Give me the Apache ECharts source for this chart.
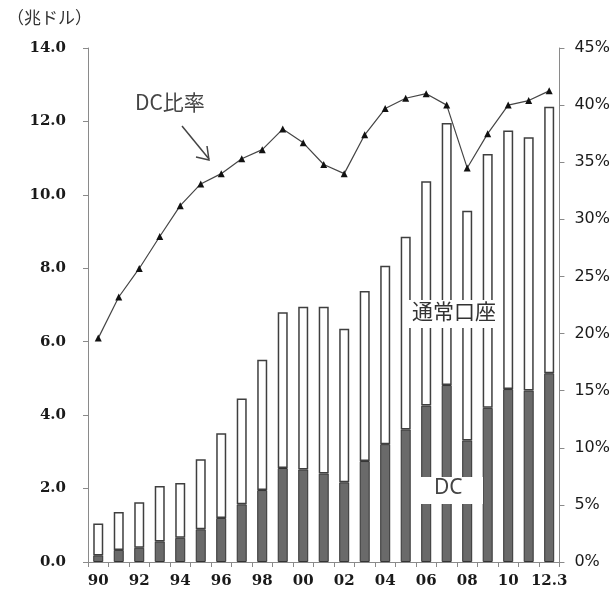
<!DOCTYPE html>
<html><head><meta charset="utf-8">
<script src="https://cdn.jsdelivr.net/npm/echarts@6/dist/echarts.min.js"></script>
<style>html,body{margin:0;padding:0;background:#fff}#c{width:613px;height:598px}</style>
</head><body><div id="c"></div>
<script>
const categories = ['90','91','92','93','94','95','96','97','98','99','00','01','02','03','04','05','06','07','08','09','10','11','12.3'];
const dcValues = [0.18,0.33,0.39,0.56,0.66,0.89,1.20,1.57,1.96,2.56,2.52,2.41,2.17,2.75,3.21,3.61,4.26,4.82,3.31,4.20,4.71,4.67,5.14];
const regularValues = [0.87,1.03,1.24,1.51,1.49,1.91,2.31,2.88,3.55,4.24,4.43,4.54,4.18,4.63,4.86,5.25,6.11,7.14,6.26,6.91,7.04,6.90,7.26];
const dcRatio = [19.6,23.2,25.7,28.5,31.2,33.1,34.0,35.3,36.1,37.9,36.7,34.8,34.0,37.4,39.7,40.6,41.0,40.0,34.5,37.5,40.0,40.4,41.25];
const leftTicks = {min:0, max:14, interval:2};
const rightTicks = {min:0, max:45, interval:5};

const chart = echarts.init(document.getElementById('c'), null, {renderer:'canvas'});
const axisGray = '#8a8a8a';
const cjk = '"Noto Sans CJK JP", "Noto Sans", sans-serif';
chart.setOption({
  animation:false,
  backgroundColor:'#fff',
  grid:{left:88, right:53, top:48, bottom:36, containLabel:false},
  xAxis:{
    type:'category', data:categories, boundaryGap:true,
    axisLine:{lineStyle:{color:axisGray, width:1}},
    axisTick:{show:true, alignWithLabel:false, interval:0, length:5, lineStyle:{color:axisGray}},
    axisLabel:{interval:1, margin:12, color:'#1a1a1a', fontFamily:'"DejaVu Serif", serif', fontWeight:'bold', fontSize:15}
  },
  yAxis:[
    {type:'value', min:leftTicks.min, max:leftTicks.max, interval:leftTicks.interval,
     axisLine:{show:true, lineStyle:{color:axisGray}},
     axisTick:{show:true, length:5, lineStyle:{color:axisGray}},
     splitLine:{show:false},
     axisLabel:{margin:22, color:'#1a1a1a', fontFamily:'"DejaVu Serif", serif', fontWeight:'bold', fontSize:15,
       formatter:v=>v.toFixed(1)}},
    {type:'value', position:'right', min:rightTicks.min, max:rightTicks.max, interval:rightTicks.interval,
     axisLine:{show:true, lineStyle:{color:axisGray}},
     axisTick:{show:true, length:5, lineStyle:{color:axisGray}},
     splitLine:{show:false},
     axisLabel:{margin:15, color:'#1a1a1a', fontFamily:'"DejaVu Sans", sans-serif', fontSize:16,
       formatter:v=>v+'%'}}
  ],
  series:[
    {name:'DC', type:'bar', stack:'total', data:dcValues, barWidth:10,
     itemStyle:{color:'#6a6a6a', borderColor:'#333', borderWidth:1}, z:2},
    {name:'通常口座', type:'bar', stack:'total', data:regularValues, barWidth:10,
     itemStyle:{color:'#ffffff', borderColor:'#3f3f3f', borderWidth:1.5}, z:2},
    {name:'DC比率', type:'line', yAxisIndex:1, data:dcRatio,
     symbol:'triangle', symbolSize:7, showSymbol:true,
     lineStyle:{color:'#454545', width:1.2},
     itemStyle:{color:'#111'}, z:5}
  ],
  graphic:[
    {type:'text', left:7, top:9, style:{text:'（兆ドル）', font:'17px '+cjk, fill:'#333'}},
    {type:'text', x:135, y:92, style:{text:'DC比率', font:'21px '+cjk, fill:'#444'}, z:10},
    {type:'polyline', shape:{points:[[182,126],[209,159]]}, style:{stroke:'#444', lineWidth:1.5, fill:null}, z:10},
    {type:'polyline', shape:{points:[[196,157],[209,160],[207,146]]}, style:{stroke:'#444', lineWidth:1.5, fill:null}, z:10},
    {type:'rect', shape:{x:407, y:300, width:96, height:28}, style:{fill:'#fff'}, z:8},
    {type:'text', x:412, y:301, style:{text:'通常口座', font:'21px '+cjk, fill:'#333'}, z:10},
    {type:'rect', shape:{x:420, y:477, width:63, height:27}, style:{fill:'#fff'}, z:8},
    {type:'text', x:434, y:478, style:{text:'DC', font:'21px "Noto Sans", sans-serif', fill:'#444'}, z:10}
  ]
});
</script></body></html>
